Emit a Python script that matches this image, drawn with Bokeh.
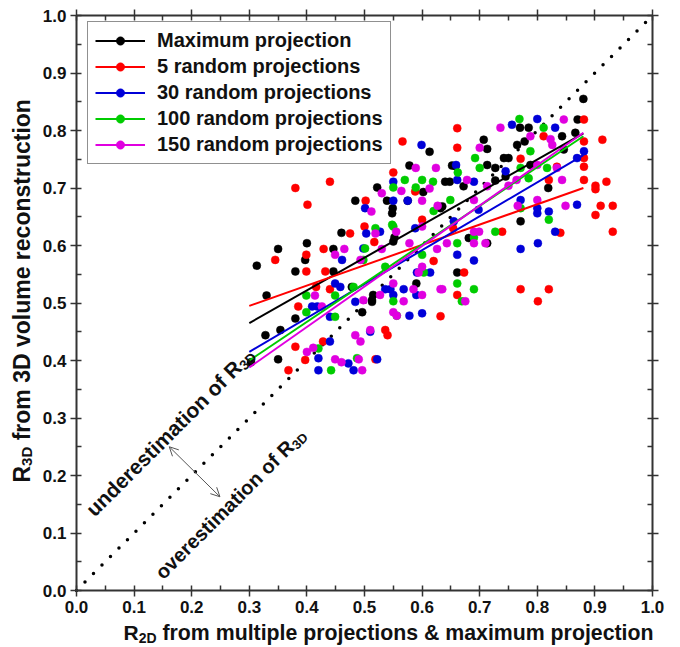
import math
from bokeh.plotting import figure
from bokeh.models import (Range1d, LinearAxis, SingleIntervalTicker, NumeralTickFormatter,
                          CustomJSTickFormatter, Legend, LegendItem, Label, Arrow, OpenHead)
from bokeh.embed import file_html
from bokeh.resources import INLINE

# ---------------- data ----------------
series_names = ["Maximum projection", "5 random projections", "30 random projections",
                "100 random projections", "150 random projections"]
series_colors = ["#000000", "#ff0000", "#0000d8", "#00cc00", "#e000e0"]

max_points = [(0.88,0.855),(0.87,0.819),(0.77,0.805),(0.785,0.805),(0.707,0.784),(0.713,0.768),
    (0.765,0.775),(0.742,0.752),(0.778,0.781),(0.843,0.79),(0.866,0.796),(0.658,0.738),(0.64,0.711),
    (0.648,0.711),(0.713,0.74),(0.819,0.70),(0.771,0.642),(0.635,0.668),(0.672,0.703),(0.745,0.72),
    (0.788,0.74),(0.846,0.767),(0.681,0.613),(0.661,0.553),(0.713,0.604),(0.75,0.752),(0.727,0.735),
    (0.613,0.763),(0.578,0.739),(0.652,0.739),(0.522,0.701),(0.539,0.678),(0.549,0.665),(0.548,0.656),
    (0.602,0.693),(0.575,0.678),(0.727,0.713),(0.632,0.665),(0.552,0.614),(0.40,0.604),(0.35,0.594),
    (0.313,0.565),(0.397,0.575),(0.38,0.555),(0.446,0.594),(0.33,0.513),(0.38,0.473),(0.328,0.444),
    (0.354,0.453),(0.303,0.397),(0.35,0.402),(0.513,0.505),(0.496,0.484),(0.478,0.528),(0.446,0.555),
    (0.515,0.514),(0.513,0.502),(0.59,0.534),(0.55,0.607),(0.484,0.678),(0.46,0.622)]

rand5_points = [(0.38,0.70),(0.44,0.711),(0.401,0.671),(0.661,0.804),(0.566,0.781),(0.661,0.77),
    (0.55,0.727),(0.502,0.678),(0.50,0.633),(0.475,0.621),(0.60,0.645),(0.881,0.819),(0.913,0.784),
    (0.881,0.781),(0.881,0.752),(0.881,0.737),(0.881,0.714),(0.901,0.704),(0.901,0.698),(0.92,0.711),
    (0.91,0.669),(0.931,0.669),(0.901,0.653),(0.931,0.624),(0.771,0.751),(0.811,0.79),(0.82,0.714),
    (0.84,0.622),(0.739,0.624),(0.673,0.553),(0.661,0.514),(0.771,0.524),(0.82,0.524),(0.801,0.503),
    (0.632,0.477),(0.834,0.737),(0.588,0.694),(0.654,0.63),(0.429,0.594),(0.345,0.575),(0.399,0.584),
    (0.399,0.555),(0.432,0.555),(0.416,0.528),(0.44,0.524),(0.385,0.494),(0.38,0.424),(0.428,0.433),
    (0.397,0.401),(0.368,0.383),(0.62,0.573),(0.536,0.453),(0.54,0.444),(0.519,0.402),(0.517,0.606)]

rand30_points = [(0.599,0.775),(0.55,0.711),(0.501,0.665),(0.55,0.678),(0.575,0.678),(0.503,0.621),
    (0.80,0.82),(0.831,0.805),(0.756,0.81),(0.745,0.729),(0.69,0.711),(0.661,0.714),(0.771,0.679),
    (0.80,0.665),(0.80,0.656),(0.82,0.659),(0.869,0.671),(0.881,0.764),(0.869,0.752),(0.831,0.624),
    (0.659,0.74),(0.771,0.594),(0.801,0.604),(0.661,0.584),(0.69,0.574),(0.655,0.642),(0.588,0.63),
    (0.527,0.624),(0.698,0.662),(0.461,0.575),(0.449,0.534),(0.458,0.528),(0.409,0.494),(0.418,0.494),
    (0.44,0.476),(0.484,0.502),(0.498,0.595),(0.44,0.433),(0.42,0.404),(0.42,0.383),(0.472,0.395),
    (0.481,0.383),(0.614,0.553),(0.591,0.553),(0.568,0.524),(0.536,0.524),(0.545,0.524),(0.59,0.514),
    (0.55,0.514),(0.578,0.478),(0.60,0.482),(0.522,0.402),(0.51,0.45)]

rand100_points = [(0.769,0.82),(0.811,0.805),(0.788,0.764),(0.692,0.752),(0.70,0.735),(0.771,0.735),
    (0.649,0.679),(0.82,0.645),(0.727,0.624),(0.817,0.735),(0.785,0.717),(0.771,0.665),(0.661,0.604),
    (0.69,0.614),(0.661,0.534),(0.69,0.524),(0.669,0.503),(0.57,0.714),(0.60,0.714),(0.619,0.711),
    (0.55,0.701),(0.589,0.701),(0.519,0.63),(0.55,0.633),(0.62,0.66),(0.548,0.636),(0.662,0.727),
    (0.399,0.513),(0.449,0.513),(0.399,0.484),(0.449,0.476),(0.481,0.528),(0.501,0.595),(0.498,0.575),
    (0.42,0.421),(0.442,0.383),(0.487,0.404),(0.60,0.584),(0.603,0.553),(0.55,0.503),(0.556,0.478),
    (0.536,0.563)]

rand150_points = [(0.589,0.735),(0.624,0.735),(0.564,0.695),(0.613,0.699),(0.53,0.691),(0.512,0.659),
    (0.60,0.678),(0.627,0.669),(0.519,0.621),(0.555,0.624),(0.60,0.633),(0.736,0.805),(0.846,0.819),
    (0.70,0.77),(0.788,0.79),(0.823,0.785),(0.826,0.775),(0.678,0.714),(0.764,0.714),(0.75,0.704),
    (0.80,0.74),(0.834,0.735),(0.843,0.714),(0.766,0.669),(0.849,0.669),(0.80,0.679),(0.69,0.679),
    (0.69,0.624),(0.713,0.703),(0.699,0.624),(0.643,0.604),(0.69,0.604),(0.71,0.604),(0.635,0.524),
    (0.675,0.503),(0.465,0.594),(0.449,0.584),(0.493,0.575),(0.414,0.513),(0.426,0.494),(0.498,0.505),
    (0.51,0.453),(0.484,0.444),(0.493,0.433),(0.411,0.422),(0.40,0.415),(0.449,0.402),(0.46,0.397),
    (0.49,0.402),(0.496,0.383),(0.53,0.594),(0.578,0.604),(0.626,0.594),(0.60,0.563),(0.594,0.553),
    (0.55,0.534),(0.632,0.524),(0.585,0.524),(0.60,0.514),(0.527,0.514),(0.568,0.503),(0.55,0.484),
    (0.556,0.478)]

series_points = [max_points, rand5_points, rand30_points, rand100_points, rand150_points]

# linear fits: value at x = 0.30 and x = 0.88
fit_x = [0.30, 0.88]
fit_y = [[0.465, 0.795], [0.495, 0.700], [0.415, 0.757], [0.400, 0.790], [0.388, 0.796]]

identity = [0.0, 1.0]

# ---------------- figure ----------------
FONT = "Liberation Sans"
W, H = 680, 647
BL, BR, BT, BB = 76, 28, 15, 57          # where the data box sits inside the canvas
PX = W - BL - BR
PY = H - BT - BB

p = figure(width=W, height=H,
           x_range=Range1d(-BL / PX, 1 + BR / PX), y_range=Range1d(-BB / PY, 1 + BT / PY),
           output_backend="svg", toolbar_location=None, title=None,
           min_border_left=0, min_border_right=0, min_border_top=0, min_border_bottom=0)
p.grid.visible = False
p.outline_line_color = None
p.background_fill_color = "white"
p.border_fill_color = "white"

ticker = SingleIntervalTicker(interval=0.1, num_minor_ticks=2)


def style_axis(ax, loc, labels=True):
    ax.fixed_location = loc
    ax.bounds = (0, 1)
    ax.ticker = ticker
    ax.axis_line_color = "#333333"
    ax.axis_line_width = 2
    ax.major_tick_in = 0
    ax.major_tick_out = 6
    ax.minor_tick_in = 5
    ax.minor_tick_out = 0
    ax.major_tick_line_color = "#333333"
    ax.minor_tick_line_color = "#333333"
    ax.major_tick_line_width = 1.5
    ax.minor_tick_line_width = 1.5
    if labels:
        ax.formatter = NumeralTickFormatter(format="0.0")
        ax.major_label_text_font = FONT
        ax.major_label_text_font_style = "bold"
        ax.major_label_text_font_size = "17px"
        ax.major_label_text_color = "#111111"
        ax.major_label_standoff = 4
    else:
        ax.formatter = CustomJSTickFormatter(code="return ''")
        ax.major_label_standoff = 0


style_axis(p.xaxis[0], 0)
style_axis(p.yaxis[0], 0)
top_axis = LinearAxis()
right_axis = LinearAxis()
style_axis(top_axis, 1, labels=False)
style_axis(right_axis, 1, labels=False)
p.add_layout(top_axis, "above")
p.add_layout(right_axis, "right")

# identity line
p.line(identity, identity, line_color="black", line_width=3.5, line_dash="0 12", line_cap="round")

# scatter
scatter_r = []
for pts, col in zip(series_points, series_colors):
    xs = [a for a, b in pts]
    ys = [b for a, b in pts]
    scatter_r.append(p.scatter(xs, ys, size=8, fill_color=col, line_color=col, line_width=0.5))

# fit lines
line_r = []
for fy, col in zip(fit_y, series_colors):
    line_r.append(p.line(fit_x, fy, line_color=col, line_width=2))

LEG_LEFT, LEG_TOP, LEG_H = 87, 23, 141
legend = Legend(items=[LegendItem(label=n, renderers=[lr, sr])
                       for n, lr, sr in zip(series_names, line_r, scatter_r)],
                location=(LEG_LEFT, H - LEG_TOP - LEG_H), padding=7, spacing=3,
                glyph_width=50, glyph_height=21, label_height=21, label_standoff=12,
                label_text_font=FONT, label_text_font_style="bold", label_text_font_size="20px",
                label_text_color="#111111",
                border_line_color="#222222", border_line_width=1.5, background_fill_alpha=1)
p.add_layout(legend)

# ---------------- rich text (subscripts) ----------------
CW = {' ': 278, '&': 722, '.': 278, 'D': 722, 'M': 833, 'R': 722, 'a': 556, 'c': 556, 'd': 611,
      'e': 556, 'f': 333, 'i': 278, 'j': 278, 'l': 278, 'm': 889, 'n': 611, 'o': 611, 'p': 611,
      'r': 389, 's': 556, 't': 333, 'u': 611, 'v': 556, 'x': 556}


def tw(s, size):
    return sum(CW.get(c, 556) for c in s) / 1000.0 * size


def rich(x0, y0, parts, angle_deg):
    """parts: list of (text, font_px, drop_px); x0,y0 = canvas px of baseline start."""
    a = math.radians(angle_deg)
    along = 0.0
    for text, size, drop in parts:
        lead = len(text) - len(text.lstrip(" "))
        along += tw(" " * lead, size)
        text = text.strip(" ")
        sx = x0 + along * math.cos(a) + drop * math.sin(a)
        sy_up = (H - y0) + along * math.sin(a) - drop * math.cos(a)
        dx = (sx - BL) / PX
        dy = (sy_up - BB) / PY
        p.add_layout(Label(x=dx, y=dy, text=text, angle=a, text_font=FONT,
                           text_font_style="bold", text_font_size=f"{size}px",
                           text_color="#111111", text_align="left", text_baseline="alphabetic"))
        along += tw(text, size)


# axis titles
rich(123, 632, [("R", 21, 0), ("2D", 14, 5), (" from multiple projections & maximum projection", 21.3, 0)], 0)
rich(21, 482, [("R", 23, 0), ("3D", 15, 5), (" from 3D volume reconstruction", 23, 0)], 90)

# in-plot annotations
rich(89, 512, [("underestimation of R", 21, 0), ("3D", 14, 5)], 45)
rich(158, 575, [("overestimation of R", 20, 0), ("3D", 13, 5)], 45)

arrow_start = (0.161, 0.250)
arrow_end = (0.249, 0.163)
p.add_layout(Arrow(start=OpenHead(size=9, line_color="#555555", line_width=1),
                   end=OpenHead(size=9, line_color="#555555", line_width=1),
                   x_start=arrow_start[0], y_start=arrow_start[1],
                   x_end=arrow_end[0], y_end=arrow_end[1],
                   line_color="#555555", line_width=1))

open("out.html", "w").write(file_html(p, INLINE))
